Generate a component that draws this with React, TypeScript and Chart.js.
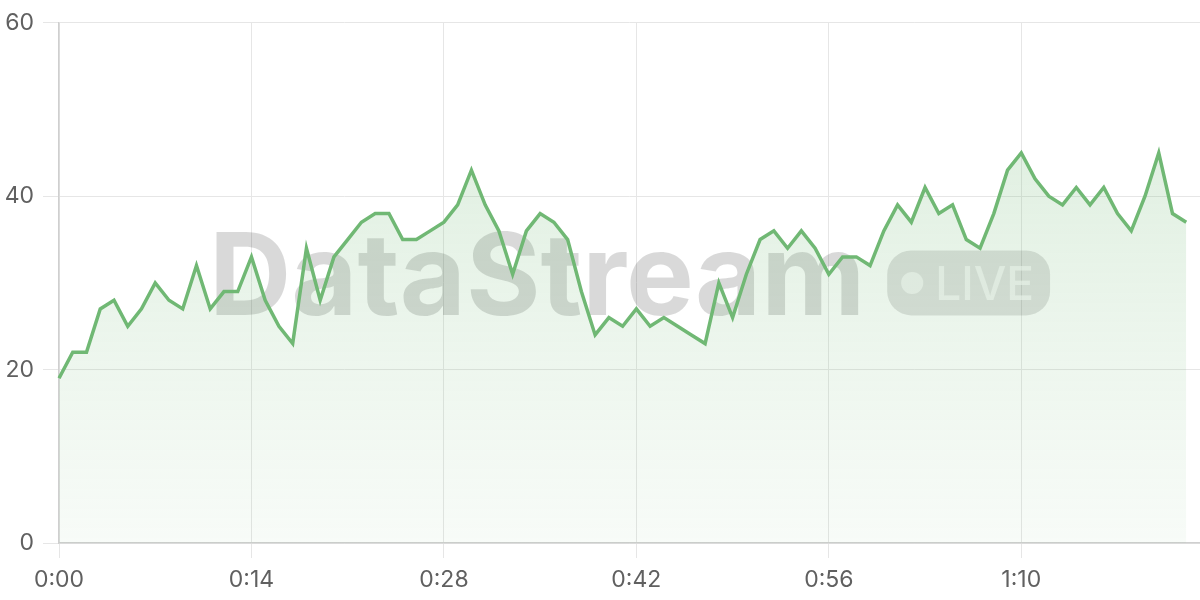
import React, { useEffect, useRef } from "react";
import { Chart, registerables } from "chart.js";

Chart.register(...registerables);

// Value per second (0:00 .. 1:22)
const streamValues: number[] = [
  19, 22, 22, 27, 28, 25, 27, 30, 28, 27,
  32, 27, 29, 29, 33, 28, 25, 23, 34, 28,
  33, 35, 37, 38, 38, 35, 35, 36, 37, 39,
  43, 39, 36, 31, 36, 38, 37, 35, 29, 24,
  26, 25, 27, 25, 26, 25, 24, 23, 30, 26,
  31, 35, 36, 34, 36, 34, 31, 33, 33, 32,
  36, 39, 37, 41, 38, 39, 35, 34, 38, 43,
  45, 42, 40, 39, 41, 39, 41, 38, 36, 40,
  45, 38, 37,
];

// x categories: one per second, the axis runs one second past the last value
const secondCount = 84;
const timeLabels: string[] = Array.from({ length: secondCount }, (_, i) =>
  `${Math.floor(i / 60)}:${String(i % 60).padStart(2, "0")}`
);
const xTickLabels: string[] = ["0:00", "0:14", "0:28", "0:42", "0:56", "1:10"];
const yTicks: number[] = [0, 20, 40, 60];

const watermarkTitle = "DataStream";
const watermarkBadge = "LIVE";

const FONT = "Inter, 'Noto Sans', 'DejaVu Sans', sans-serif";

const watermarkPlugin = {
  id: "watermark",
  beforeDatasetsDraw(chart: any) {
    const { ctx, chartArea } = chart;
    if (!chartArea) return;
    const cx = (chartArea.left + chartArea.right) / 2;
    const cy = (chartArea.top + chartArea.bottom) / 2;
    ctx.save();
    ctx.font = `bold 114px ${FONT}`;
    const titleW = ctx.measureText(watermarkTitle).width;
    ctx.font = `500 46px ${FONT}`;
    const liveW = ctx.measureText(watermarkBadge).width;
    const pillPadL = 14;
    const dotR = 11;
    const dotGap = 12;
    const pillPadR = 16;
    const pillW = pillPadL + dotR * 2 + dotGap + liveW + pillPadR;
    const pillH = 65;
    const gap = 22;
    const total = titleW + gap + pillW;
    let x = cx - total / 2;

    ctx.fillStyle = "rgba(0,0,0,0.15)";
    ctx.font = `bold 114px ${FONT}`;
    ctx.textAlign = "left";
    ctx.textBaseline = "alphabetic";
    ctx.fillText(watermarkTitle, x, cy + 32);

    x += titleW + gap;
    const py = cy - pillH / 2;
    ctx.beginPath();
    (ctx as any).roundRect(x, py, pillW, pillH, 24);
    ctx.fillStyle = "rgba(0,0,0,0.12)";
    ctx.fill();

    ctx.fillStyle = "rgba(255,255,255,0.6)";
    ctx.beginPath();
    ctx.arc(x + pillPadL + dotR, cy, dotR, 0, Math.PI * 2);
    ctx.fill();

    ctx.font = `500 46px ${FONT}`;
    ctx.fillText(watermarkBadge, x + pillPadL + dotR * 2 + dotGap, cy + 17);
    ctx.restore();
  },
};

export default function App() {
  const canvasRef = useRef<HTMLCanvasElement | null>(null);

  useEffect(() => {
    if (!canvasRef.current) return;
    const chart = new Chart(canvasRef.current, {
      type: "line",
      data: {
        labels: timeLabels,
        datasets: [
          {
            data: streamValues,
            borderColor: "rgb(112,184,116)",
            borderWidth: 3.5,
            pointRadius: 0,
            tension: 0,
            fill: "origin",
            backgroundColor: (context: any) => {
              const { chart } = context;
              const { ctx, chartArea } = chart;
              if (!chartArea) return "rgba(112,184,116,0.12)";
              const g = ctx.createLinearGradient(0, chartArea.top, 0, chartArea.bottom);
              g.addColorStop(0, "rgba(112,184,116,0.26)");
              g.addColorStop(1, "rgba(112,184,116,0.05)");
              return g;
            },
          },
        ],
      },
      options: {
        animation: false,
        responsive: true,
        maintainAspectRatio: false,
        layout: { padding: { top: 7, right: 0, bottom: 0, left: 0 } },
        plugins: {
          legend: { display: false },
          tooltip: { enabled: false },
        },
        scales: {
          x: {
            type: "category",
            grid: {
              color: "#e6e6e6",
              lineWidth: 1,
              tickLength: 15,
            },
            border: { color: "#cfcfcf", width: 1.5 },
            ticks: {
              autoSkip: false,
              maxRotation: 0,
              padding: 8,
              color: "#606060",
              font: { family: FONT, size: 23 },
              callback: function (this: any, value: any) {
                const lbl = this.getLabelForValue(value);
                return xTickLabels.includes(lbl) ? lbl : null;
              },
            },
            afterFit: (scale: any) => {
              scale.height = 57;
            },
          },
          y: {
            min: yTicks[0],
            max: yTicks[yTicks.length - 1],
            grid: { color: "#e6e6e6", lineWidth: 1, tickLength: 16 },
            border: { color: "#cfcfcf", width: 1.5 },
            ticks: {
              stepSize: 20,
              padding: 9,
              color: "#606060",
              font: { family: FONT, size: 23 },
            },
            afterFit: (scale: any) => {
              scale.width = 59;
            },
          },
        },
      },
      plugins: [watermarkPlugin],
    } as any);
    return () => chart.destroy();
  }, []);

  return (
    <div style={{ position: "fixed", left: 0, top: 0, width: 1200, height: 600, background: "#fff" }}>
      <canvas ref={canvasRef} />
    </div>
  );
}
